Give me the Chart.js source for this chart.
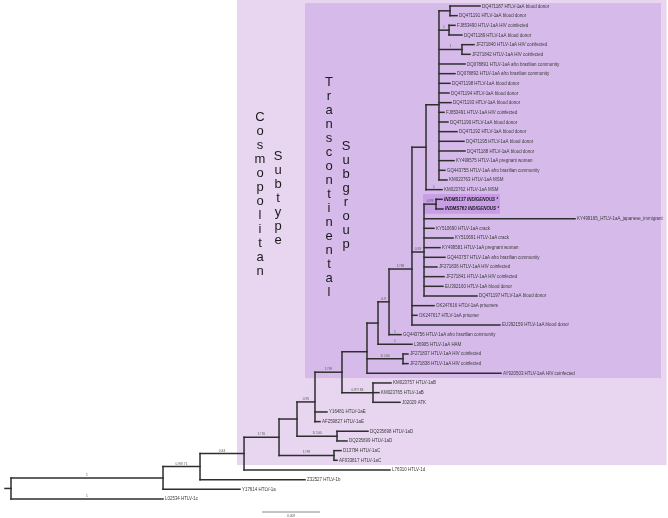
<!DOCTYPE html>
<html>
<head>
<meta charset="utf-8">
<script src="https://cdn.jsdelivr.net/npm/chart.js@4.4.0/dist/chart.umd.min.js"></script>
<style>
    html, body { margin: 0; padding: 0; background: #fff; }
    canvas { display: block; }
</style>
</head>
<body>
<canvas id="tree" width="668" height="518"></canvas>
<script>
// ── Tips, top to bottom ─────────────────────────────────
const leafNames = [
    'DQ471187 HTLV-1aA blood donor', 'DQ471191 HTLV-1aA blood donor',
    'FJ853490 HTLV-1aA HIV coinfected', 'DQ471189 HTLV-1aA blood donor',
    'JF271840 HTLV-1aA HIV coinfected', 'JF271842 HTLV-1aA HIV coinfected',
    'DQ078891 HTLV-1aA afro brazilian community', 'DQ078892 HTLV-1aA afro brazilian community',
    'DQ471198 HTLV-1aA blood donor', 'DQ471194 HTLV-1aA blood donor',
    'DQ471193 HTLV-1aA blood donor', 'FJ853491 HTLV-1aA HIV coinfected',
    'DQ471190 HTLV-1aA blood donor', 'DQ471192 HTLV-1aA blood donor',
    'DQ471195 HTLV-1aA blood donor', 'DQ471188 HTLV-1aA blood donor',
    'KY499575 HTLV-1aA pregnant woman', 'GQ443755 HTLV-1aA afro brazilian community',
    'KM023763 HTLV-1aA MSM', 'KM023762 HTLV-1aA MSM',
    'INDMS137 INDIGENOUS *', 'INDMS763 INDIGENOUS *',
    'KY499165_HTLV-1aA_japanese_immigrant', 'KY510690 HTLV-1aA crack',
    'KY510691 HTLV-1aA crack', 'KY499581 HTLV-1aA pregnant woman',
    'GQ443757 HTLV-1aA afro brazilian community', 'JF271836 HTLV-1aA HIV coinfected',
    'JF271841 HTLV-1aA HIV coinfected', 'EU392160 HTLV-1aA blood donor',
    'DQ471197 HTLV-1aA blood donor', 'OK247616 HTLV-1aA prisoners',
    'OK247617 HTLV-1aA prisoner', 'EU392159 HTLV-1aA blood donor',
    'GQ443756 HTLV-1aA afro brazilian community', 'L36905 HTLV-1aA HAM',
    'JF271837 HTLV-1aA HIV coinfected', 'JF271838 HTLV-1aA HIV coinfected',
    'AY920503 HTLV-1aA HIV coinfected', 'KM023757 HTLV-1aB',
    'KM023765 HTLV-1aB', 'J02029 ATK',
    'Y16481 HTLV-1aE', 'AF259827 HTLV-1aE',
    'DQ235698 HTLV-1aD', 'DQ235699 HTLV-1aD',
    'D13784 HTLV-1aC', 'AF033817 HTLV-1aC',
    'L76310 HTLV-1d', 'Z32527 HTLV-1b',
    'Y17614 HTLV-1a', 'L02534 HTLV-1c'
];

// distance from root (subst./site)
const leafDepths = [
    0.07278, 0.06921, 0.06890, 0.06998, 0.07184, 0.07122, 0.07045, 0.06890,
    0.06812, 0.06797, 0.06828, 0.06719, 0.06781, 0.06921, 0.07029, 0.07045,
    0.06874, 0.06734, 0.06766, 0.06688, 0.06688, 0.06703, 0.08752, 0.06564,
    0.06859, 0.06657, 0.06734, 0.06610, 0.06719, 0.06703, 0.07231, 0.06564,
    0.06300, 0.07588, 0.06052, 0.06222, 0.06160, 0.06160, 0.07603, 0.05897,
    0.05710, 0.06036, 0.04903, 0.04795, 0.05540, 0.05214, 0.05121, 0.05059,
    0.05881, 0.04562, 0.03553, 0.02359
];

const leafSupport = { 19: '1', 34: '1', 35: '1', 51: '1' };
const boldLeaves = [20, 21];

// ── Internal nodes ──────────────────────────────────────
const nodeIds = ['root', 'X', 'Y', 'Z', 'W', 'V', 'U', 'T', 'S', 'R', 'Q', 'P3', 'P2', 'P1',
                 'A', 'B', 'C', 'P4', 'IND', 'JFp', 'aB', 'aD', 'aC'];
const nodeDepths = [0, 0.02359, 0.02933, 0.03616, 0.04159, 0.04438, 0.04717, 0.05136,
                    0.05524, 0.05695, 0.05866, 0.06222, 0.06440, 0.06641, 0.06812, 0.06797,
                    0.06998, 0.06409, 0.06595, 0.06083, 0.05617, 0.05059, 0.05012];
const nodeChildren = [
    ['X', 51], ['Y', 50], ['Z', 49], ['W', 48], ['V', 'aC'], ['U', 'aD'],
    ['T', 42, 43], ['S', 'aB'], ['R', 'JFp', 38], ['Q', 35], ['P3', 34],
    ['P2', 'P4', 31, 32, 33], ['P1', 19],
    ['A', 'B', 'C', 6, 7, 8, 9, 10, 11, 12, 13, 14, 15, 16, 17, 18],
    [0, 1], [2, 3], [4, 5],
    ['IND', 22, 23, 24, 25, 26, 27, 28, 29, 30], [20, 21], [36, 37],
    [39, 40, 41], [44, 45], [46, 47]
];
const nodeSupport = ['', '1', '0.98/ 71', '0.84', '1/ 76', '', '0.95', '1/ 99', '', '', '0.9',
                     '1/ 98', '', '', '', '1', '1', '0.93', '0.99', '1/ 100', '0.97/ 83',
                     '1/ 100', '1/ 99'];

const rootStub = -0.00093;
const scaleBarLength = 0.009;
const scaleBarStart = 0.03895;

// ── Layout helpers ──────────────────────────────────────
const idx = id => nodeIds.indexOf(id);
const xOf = ref => typeof ref === 'number' ? leafDepths[ref] : nodeDepths[idx(ref)];
function yOf(ref) {
    if (typeof ref === 'number') return ref;
    const kids = nodeChildren[idx(ref)];
    return kids.reduce((s, k) => s + yOf(k), 0) / kids.length;
}

const segments = [];
const branchLabels = [];
nodeIds.forEach((id, i) => {
    const x0 = nodeDepths[i];
    const kids = nodeChildren[i];
    const ys = kids.map(yOf);
    segments.push([{ x: x0, y: Math.min(...ys) }, { x: x0, y: Math.max(...ys) }]);
    kids.forEach((k, j) => {
        segments.push([{ x: x0, y: ys[j] }, { x: xOf(k), y: ys[j] }]);
        const sup = typeof k === 'number' ? (leafSupport[k] || '') : nodeSupport[idx(k)];
        if (sup) branchLabels.push({ x: (x0 + xOf(k)) / 2, y: ys[j], text: sup });
    });
});
const rootY = yOf('root');
segments.push([{ x: rootStub, y: rootY }, { x: 0, y: rootY }]);

const datasets = segments.map(s => ({
    data: s,
    showLine: true,
    borderColor: '#2e2e2e',
    borderWidth: 1.5,
    borderCapStyle: 'square',
    pointRadius: 0,
    fill: false
}));
datasets.push({
    data: [{ x: scaleBarStart, y: 52.35 }, { x: scaleBarStart + scaleBarLength, y: 52.35 }],
    showLine: true, borderColor: '#888', borderWidth: 1, pointRadius: 0, fill: false
});

// ── Shaded clades & titles ──────────────────────────────
const boxes = [
    { first: 0, last: 47, left: 0.03507, right: null, padTop: 0.62, padBottom: 0.5, color: '#e8d6f1' },
    { first: 0, last: 38, left: 0.04562, right: 0.10086, padTop: 0.3, padBottom: 0.5, color: '#d6bbea' },
    { first: 20, last: 21, left: 0.06393, right: 0.07588, padTop: 0.55, padBottom: 0.5, color: '#c89ee7' }
];
const titles = [
    { text: 'Cosmopolitan', x: 260, y: 120.5 },
    { text: 'Subtype', x: 278, y: 159.6 },
    { text: 'Transcontinental', x: 329, y: 85.5 },
    { text: 'Subgroup', x: 346, y: 149.5 }
];
const FONT = 'Arial, "Liberation Sans", sans-serif';

const decor = {
    id: 'decor',
    beforeDraw(chart) {
        const { ctx } = chart;
        ctx.save();
        ctx.fillStyle = '#fff';
        ctx.fillRect(0, 0, chart.width, chart.height);
        ctx.restore();
    },
    beforeDatasetsDraw(chart) {
        const { ctx, chartArea, scales: { x, y } } = chart;
        ctx.save();
        boxes.forEach(b => {
            const l = x.getPixelForValue(b.left);
            const r = b.right === null ? chartArea.right - 1.5 : x.getPixelForValue(b.right);
            const t = y.getPixelForValue(b.first - b.padTop);
            const btm = y.getPixelForValue(b.last + b.padBottom);
            ctx.fillStyle = b.color;
            ctx.fillRect(l, t, r - l, btm - t);
        });
        ctx.restore();
    },
    afterDatasetsDraw(chart) {
        const { ctx, scales: { x, y } } = chart;
        ctx.save();

        // tip labels
        ctx.textBaseline = 'middle';
        ctx.textAlign = 'left';
        leafNames.forEach((name, i) => {
            const bold = boldLeaves.includes(i);
            ctx.font = (bold ? 'italic bold ' : '') + '4.45px ' + FONT;
            ctx.fillStyle = bold ? '#1a1a1a' : '#3a3a3a';
            ctx.fillText(name, x.getPixelForValue(leafDepths[i]) + 2, y.getPixelForValue(i) + 0.3);
        });

        // support values
        ctx.font = '3.3px ' + FONT;
        ctx.fillStyle = '#555';
        ctx.textAlign = 'center';
        ctx.textBaseline = 'alphabetic';
        branchLabels.forEach(b => {
            ctx.fillText(b.text, x.getPixelForValue(b.x), y.getPixelForValue(b.y) - 2);
        });

        // scale bar text
        ctx.fillText(String(scaleBarLength),
            x.getPixelForValue(scaleBarStart + scaleBarLength / 2), y.getPixelForValue(52.35) + 5);

        // vertical group titles
        ctx.font = '13px ' + FONT;
        ctx.fillStyle = '#1a1a1a';
        titles.forEach(t => {
            [...t.text].forEach((ch, k) => ctx.fillText(ch, t.x, t.y + k * 14));
        });
        ctx.restore();
    }
};

new Chart(document.getElementById('tree'), {
    type: 'scatter',
    data: { datasets },
    options: {
        responsive: false,
        animation: false,
        devicePixelRatio: 1,
        layout: { padding: 0 },
        plugins: { legend: { display: false }, tooltip: { enabled: false } },
        scales: {
            x: { type: 'linear', display: false, min: -0.0017069, max: 0.101948 },
            y: { type: 'linear', display: false, reverse: true, min: -0.62, max: 52.97 }
        }
    },
    plugins: [decor]
});
</script>
</body>
</html>
